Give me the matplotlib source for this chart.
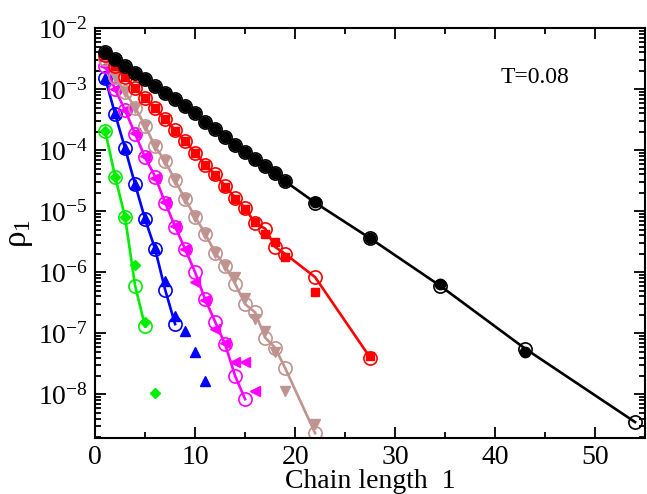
import numpy as np
import matplotlib
matplotlib.use("Agg")
import matplotlib.pyplot as plt
from matplotlib.ticker import FixedLocator, NullFormatter, FuncFormatter

plt.rcParams['font.family'] = ['Liberation Serif', 'DejaVu Serif']
plt.rcParams['mathtext.fontset'] = 'custom'
plt.rcParams['mathtext.rm'] = 'Liberation Serif'
plt.rcParams['mathtext.it'] = 'Liberation Serif:italic'

# chain lengths
l_black = [1, 2, 3, 4, 5, 6, 7, 8, 9, 10, 11, 12, 13, 14, 15, 16, 17, 18, 19, 22, 27.5, 34.5, 43, 54]
l_red = [1, 2, 3, 4, 5, 6, 7, 8, 9, 10, 11, 12, 13, 14, 15, 16, 17, 18, 19, 22, 27.5]
l_brown = [1, 2, 3, 4, 5, 6, 7, 8, 9, 10, 11, 12, 13, 14, 15, 16, 17, 18, 19, 22]
l_magenta = list(range(1, 16))
l_magenta_tri = list(range(1, 17))
l_blue = list(range(1, 9))
l_blue_tri = list(range(1, 12))
l_green = list(range(1, 6))
l_green_dia = list(range(1, 7))

# open circles (with lines)
rho_black = [4.07e-3, 3.16e-3, 2.40e-3, 1.86e-3, 1.45e-3, 1.12e-3, 8.7e-4, 6.8e-4, 5.25e-4, 4.0e-4,
             2.95e-4, 2.19e-4, 1.62e-4, 1.23e-4, 9.3e-5, 7.1e-5, 5.5e-5, 4.2e-5, 3.1e-5, 1.38e-5,
             3.6e-6, 6.0e-7, 5.6e-8, 3.5e-9]
rho_red = [3.6e-3, 2.4e-3, 1.58e-3, 1.05e-3, 7.1e-4, 4.9e-4, 3.2e-4, 2.14e-4, 1.41e-4, 9.1e-5,
           5.8e-5, 4.0e-5, 2.6e-5, 1.66e-5, 1.12e-5, 6.3e-6, 5.2e-6, 2.6e-6, 2.0e-6, 8.3e-7, 4.0e-8]
rho_brown = [3.1e-3, 1.58e-3, 8.9e-4, 5.0e-4, 2.5e-4, 1.15e-4, 6.6e-5, 3.2e-5, 1.58e-5, 8.1e-6,
             4.3e-6, 2.1e-6, 1.26e-6, 6.5e-7, 3.0e-7, 2.2e-7, 8.5e-8, 5.8e-8, 2.7e-8, 2.3e-9]
rho_magenta = [2.4e-3, 1.0e-3, 4.5e-4, 1.86e-4, 7.6e-5, 3.7e-5, 1.38e-5, 5.6e-6, 2.4e-6, 1.0e-6,
               3.6e-7, 1.55e-7, 6.6e-8, 2.0e-8, 8.3e-9]
rho_blue = [1.55e-3, 3.9e-4, 1.07e-4, 2.75e-5, 7.4e-6, 2.4e-6, 5.2e-7, 1.41e-7]
rho_green = [2.1e-4, 3.7e-5, 7.9e-6, 6.0e-7, 1.29e-7]

# filled symbols
rho_black_f = [4.07e-3, 3.16e-3, 2.40e-3, 1.86e-3, 1.45e-3, 1.12e-3, 8.7e-4, 6.8e-4, 5.25e-4, 4.0e-4,
               2.95e-4, 2.19e-4, 1.62e-4, 1.23e-4, 9.3e-5, 7.1e-5, 5.5e-5, 4.2e-5, 3.1e-5, 1.40e-5,
               3.7e-6, 6.4e-7, 5.0e-8]
rho_red_f = [3.6e-3, 2.4e-3, 1.58e-3, 1.05e-3, 7.1e-4, 4.9e-4, 3.2e-4, 2.1e-4, 1.4e-4, 9.0e-5,
             5.8e-5, 3.9e-5, 2.5e-5, 1.6e-5, 1.07e-5, 6.6e-6, 4.3e-6, 3.1e-6, 1.78e-6, 4.8e-7, 4.3e-8]
rho_brown_f = [3.1e-3, 1.6e-3, 9.0e-4, 5.0e-4, 2.5e-4, 1.15e-4, 6.6e-5, 3.2e-5, 1.6e-5, 8.1e-6,
               4.3e-6, 2.1e-6, 1.26e-6, 8.3e-7, 3.8e-7, 1.7e-7, 1.1e-7, 4.9e-8, 1.15e-8, 3.2e-9]
rho_magenta_f = [2.4e-3, 1.0e-3, 4.6e-4, 1.9e-4, 7.9e-5, 3.5e-5, 1.4e-5, 5.7e-6, 2.4e-6, 6.8e-7,
                 3.5e-7, 1.17e-7, 7.0e-8, 3.4e-8, 3.4e-8, 1.15e-8]
rho_blue_f = [1.55e-3, 4.0e-4, 1.1e-4, 2.8e-5, 7.6e-6, 2.5e-6, 7.2e-7, 1.95e-7, 1.07e-7, 4.9e-8, 1.66e-8]
rho_green_f = [2.1e-4, 3.7e-5, 7.9e-6, 1.29e-6, 1.5e-7, 1.05e-8]

decades = [-8, -7, -6, -5, -4, -3, -2]

brown = '#bf938f'

fig = plt.figure(figsize=(6.47, 4.94), dpi=100)
ax = fig.add_axes([0.147, 0.113, 0.85, 0.83])

open_kw = dict(marker='o', ms=9.5, mfc='none', mew=1.2, lw=1.9)
fill_kw = dict(ls='none')

ax.plot(l_green, rho_green, color='#00ee00', **open_kw)
ax.plot(l_green_dia, rho_green_f, color='#00ee00', marker='D', ms=5, **fill_kw)
ax.plot(l_blue, rho_blue, color='#0000ff', **open_kw)
ax.plot(l_blue_tri, rho_blue_f, color='#0000ff', marker='^', ms=6.5, **fill_kw)
ax.plot(l_magenta, rho_magenta, color='#ff00ff', **open_kw)
ax.plot(l_magenta_tri, rho_magenta_f, color='#ff00ff', marker='<', ms=6.5, **fill_kw)
ax.plot(l_brown, rho_brown, color=brown, **open_kw)
ax.plot(l_brown, rho_brown_f, color=brown, marker='v', ms=6.5, **fill_kw)
ax.plot(l_red, rho_red, color='#ff0000', **open_kw)
ax.plot(l_red, rho_red_f, color='#ff0000', marker='s', ms=6, **fill_kw)
ax.plot(l_black, rho_black, color='black', **open_kw)
ax.plot(l_black[:-1], rho_black_f, color='black', marker='o', ms=7.5, **fill_kw)

ax.set_yscale('log')
ax.set_xlim(0, 55)
ax.set_ylim(10 ** -8.72, 1e-2)

ax.xaxis.set_major_locator(FixedLocator([0, 10, 20, 30, 40, 50]))
ax.xaxis.set_minor_locator(FixedLocator([5, 15, 25, 35, 45, 55]))
ax.yaxis.set_major_locator(FixedLocator([10.0 ** d for d in decades]))
minor = [m * 10.0 ** d for d in [-9] + decades[:-1] for m in range(2, 10)]
ax.yaxis.set_minor_locator(FixedLocator([v for v in minor if v > 10 ** -8.72]))
ax.yaxis.set_minor_formatter(NullFormatter())
ax.yaxis.set_major_formatter(FuncFormatter(lambda v, p: r'$\mathregular{10^{%d}}$' % round(np.log10(v))))

ax.tick_params(which='both', direction='in', top=True, right=True, width=1.3)
ax.tick_params(which='major', length=8, labelsize=20, pad=5)
ax.tick_params(which='minor', length=4.5)
for s in ax.spines.values():
    s.set_linewidth(1.5)

ax.set_xlabel('Chain length  1', fontsize=20, labelpad=-1)
ax.set_ylabel(r'$\mathregular{\rho_1}$', fontsize=24, labelpad=2)
ax.text(0.80, 0.88, 'T=0.08', transform=ax.transAxes, fontsize=17, ha='center', va='center')

fig.savefig('out.png', dpi=100)
